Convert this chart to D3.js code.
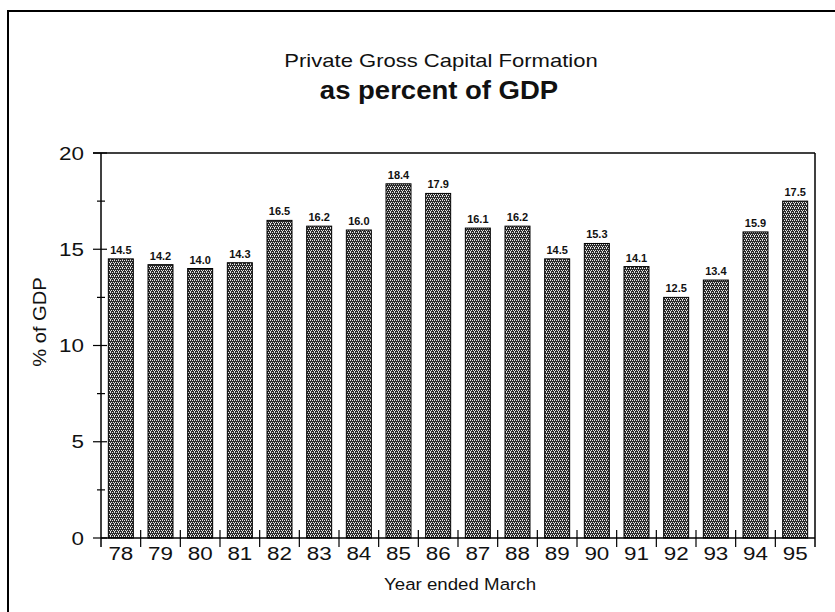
<!DOCTYPE html>
<html>
<head>
<meta charset="utf-8">
<script src="https://cdn.jsdelivr.net/npm/d3@7"></script>
<style>
  html, body { margin: 0; padding: 0; background: #fff; }
  svg { display: block; }
</style>
</head>
<body>
<script>
const years = ["78","79","80","81","82","83","84","85","86","87","88","89","90","91","92","93","94","95"];
const values = [14.5,14.2,14.0,14.3,16.5,16.2,16.0,18.4,17.9,16.1,16.2,14.5,15.3,14.1,12.5,13.4,15.9,17.5];
const valueLabels = ["14.5","14.2","14.0","14.3","16.5","16.2","16.0","18.4","17.9","16.1","16.2","14.5","15.3","14.1","12.5","13.4","15.9","17.5"];
const majorTicks = [0,5,10,15,20];
const minorTicks = [2.5,7.5,12.5,17.5];
const title1 = "Private Gross Capital Formation";
const title2 = "as percent of GDP";
const xTitle = "Year ended March";
const yTitle = "% of GDP";

(function(){
const W = 835, H = 612;
const pL = 101, pR = 815, pT = 153, pB = 538;
const FONT = "Arial, 'Liberation Sans', sans-serif";
const SX = 1.18; // horizontal stretch of the scanned lettering

const svg = d3.select("body").append("svg").attr("width", W).attr("height", H);

const defs = svg.append("defs");
const pat = defs.append("pattern").attr("id","stip").attr("patternUnits","userSpaceOnUse")
  .attr("width",4).attr("height",4);
pat.append("rect").attr("width",4).attr("height",4).attr("fill","#2a2a2a");
[[0,0],[2,0],[1,2],[3,2],[2,3]].forEach(p =>
  pat.append("rect").attr("x",p[0]).attr("y",p[1]).attr("width",1).attr("height",1).attr("fill","#e2e2e2"));

svg.append("path").attr("d", `M8,${H+5} L8,11 L${W+5},11`)
  .attr("fill","none").attr("stroke","#000").attr("stroke-width",2);

const x = d3.scaleBand().domain(years).range([pL, pR]).paddingInner(0.37).paddingOuter(0.185);
const y = d3.scaleLinear().domain([0,20]).range([pB, pT]);

function stretchText(sel, cx, cy, s) {
  sel.attr("transform", `translate(${cx},${cy}) scale(${s},1)`).attr("x",0).attr("y",0);
}

stretchText(svg.append("text").attr("text-anchor","middle")
  .attr("font-family",FONT).attr("font-size",19).attr("fill","#111").text(title1), 441, 67, 1.16);
stretchText(svg.append("text").attr("text-anchor","middle")
  .attr("font-family",FONT).attr("font-weight","bold").attr("font-size",25).attr("fill","#111").text(title2), 439, 99, 1.1);

svg.append("line").attr("x1",pL-8).attr("x2",pR).attr("y1",y(20)).attr("y2",y(20)).attr("stroke","#000").attr("stroke-width",1.5);
svg.append("line").attr("x1",pR).attr("x2",pR).attr("y1",y(20)).attr("y2",pB+9).attr("stroke","#000").attr("stroke-width",1.5);

svg.append("g").selectAll("rect").data(values).join("rect")
  .attr("x",(d,i)=>x(years[i])).attr("width",x.bandwidth())
  .attr("y",d=>y(d)).attr("height",d=>y(0)-y(d))
  .attr("fill","url(#stip)").attr("stroke","#000").attr("stroke-width",1);

svg.append("g").selectAll("text").data(values).join("text")
  .attr("transform",(d,i)=>`translate(${x(years[i])+x.bandwidth()/2},${y(d)-5}) scale(1.1,1)`)
  .attr("text-anchor","middle").attr("font-family",FONT)
  .attr("font-weight","bold").attr("font-size",10).attr("fill","#111").text((d,i)=>valueLabels[i]);

const yAxis = d3.axisLeft(y).tickValues(majorTicks).tickSize(0).tickPadding(16);
const gy = svg.append("g").attr("transform",`translate(${pL},0)`).call(yAxis);
gy.select(".domain").remove();
gy.selectAll("text").attr("font-family",FONT).attr("font-size",19).attr("fill","#111")
  .attr("transform",`scale(${SX},1)`).attr("x",-17/SX);
svg.append("line").attr("x1",pL).attr("x2",pL).attr("y1",y(20)).attr("y2",pB+9).attr("stroke","#000").attr("stroke-width",1.5);
svg.append("g").selectAll("line").data(majorTicks).join("line")
  .attr("x1",pL-8).attr("x2",pL+6).attr("y1",d=>y(d)).attr("y2",d=>y(d)).attr("stroke","#000").attr("stroke-width",1.2);
svg.append("g").selectAll("line").data(minorTicks).join("line")
  .attr("x1",pL-4).attr("x2",pL+4).attr("y1",d=>y(d)).attr("y2",d=>y(d)).attr("stroke","#000").attr("stroke-width",1.2);

svg.append("line").attr("x1",pL).attr("x2",pR).attr("y1",pB).attr("y2",pB).attr("stroke","#000").attr("stroke-width",1.5);
const boundaries = years.slice(1).map(d => x(d) - x.step()*x.paddingInner()/2);
svg.append("g").selectAll("line").data(boundaries).join("line")
  .attr("x1",d=>d).attr("x2",d=>d).attr("y1",pB-8).attr("y2",pB+9).attr("stroke","#000").attr("stroke-width",1.2);
const xAxis = d3.axisBottom(x).tickSize(0).tickPadding(9);
const gx = svg.append("g").attr("transform",`translate(0,${pB})`).call(xAxis);
gx.select(".domain").remove();
gx.selectAll("text").attr("font-family",FONT).attr("font-size",19).attr("fill","#111")
  .attr("transform",`scale(${SX},1)`);

stretchText(svg.append("text").attr("text-anchor","middle")
  .attr("font-family",FONT).attr("font-size",17).attr("fill","#111").text(xTitle), (pL+pR)/2 + 2, 590, 1.1);
svg.append("text").attr("transform","translate(46,322) rotate(-90) scale(1.12,1)").attr("text-anchor","middle")
  .attr("font-family",FONT).attr("font-size",18).attr("fill","#111").text(yTitle);
})();
</script>
</body>
</html>
